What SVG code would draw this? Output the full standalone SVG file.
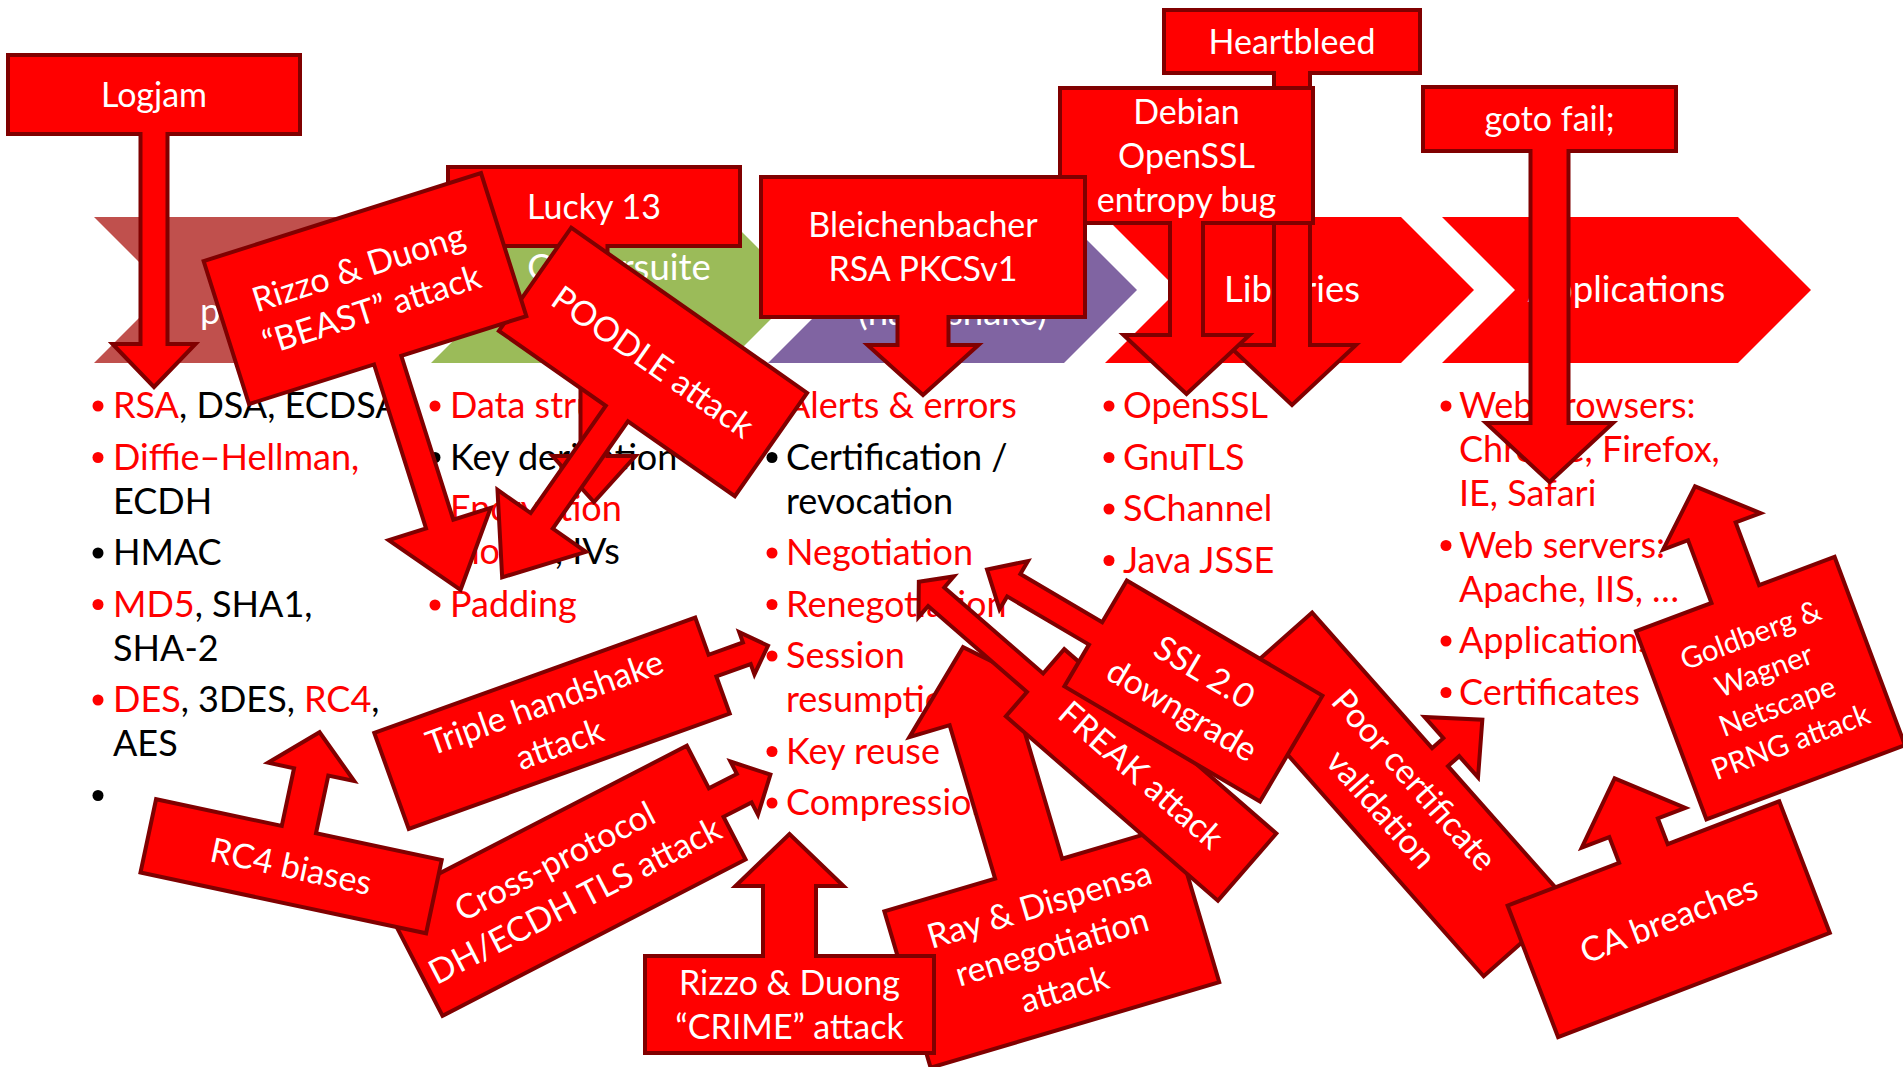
<svg xmlns="http://www.w3.org/2000/svg" width="1903" height="1067" viewBox="0 0 1903 1067">
<style>
  .t { font-family: Lato, "Liberation Sans", sans-serif; font-size: 34px; }
  .lt { font-size: 36px; }
  .ct { font-size: 36.5px; }
  .sm { font-size: 29.5px; }
  .cw { fill: #ffffff; text-anchor: middle; }
  .r { fill: #ff0000; }
  .k { fill: #000000; }
  .co { fill: #ff0000; stroke: #800000; stroke-width: 4; stroke-linejoin: miter; stroke-miterlimit: 10; }
  .dr { fill: #ff0000; }
  .dk { fill: #000000; }
</style>

<!-- process chevrons -->
<g id="chevrons" class="t ct">
  <g id="chev-primitives">
    <path d="M94,217H390L463,290L390,363H94L167,290Z" fill="#c0504d"/>
    <text class="cw" x="278.5" y="324">primitives</text>
  </g>
  <g id="chev-ciphersuite">
    <path d="M431,217H727L800,290L727,363H431L504,290Z" fill="#9bbb59"/>
    <text class="cw" x="619" y="280">Ciphersuite</text>
  </g>
  <g id="chev-protocol">
    <path d="M768,217H1064L1137,290L1064,363H768L841,290Z" fill="#8064a2"/>
    <text class="cw" x="952.5" y="325">(handshake)</text>
  </g>
  <g id="chev-libraries">
    <path d="M1105,217H1401L1474,290L1401,363H1105L1178,290Z" fill="#ff0000"/>
    <text class="cw" x="1292" y="302">Libraries</text>
  </g>
  <g id="chev-applications">
    <path d="M1442,217H1738L1811,290L1738,363H1442L1515,290Z" fill="#ff0000"/>
    <text class="cw" x="1626.5" y="302">Applications</text>
  </g>
</g>

<!-- bullet lists under each chevron -->
<g id="lists" class="t lt">
  <g id="list-primitives">
    <circle class="dr" cx="98" cy="406" r="5.5"/>
    <text x="113" y="418"><tspan class="r">RSA</tspan><tspan class="k">, DSA, ECDSA</tspan></text>
    <circle class="dr" cx="98" cy="457.5" r="5.5"/>
    <text class="r" x="113" y="469.5">Diffie–Hellman,</text>
    <text class="k" x="113" y="513.5">ECDH</text>
    <circle class="dk" cx="98" cy="553" r="5.5"/>
    <text class="k" x="113" y="565">HMAC</text>
    <circle class="dr" cx="98" cy="604.5" r="5.5"/>
    <text x="113" y="616.5"><tspan class="r">MD5</tspan><tspan class="k">, SHA1,</tspan></text>
    <text class="k" x="113" y="660.5">SHA-2</text>
    <circle class="dr" cx="98" cy="700" r="5.5"/>
    <text x="113" y="712"><tspan class="r">DES</tspan><tspan class="k">, 3DES, </tspan><tspan class="r">RC4</tspan><tspan class="k">,</tspan></text>
    <text class="k" x="113" y="756">AES</text>
    <circle class="dk" cx="98" cy="795.5" r="5.5"/>
  </g>
  <g id="list-ciphersuite">
    <circle class="dr" cx="435" cy="406" r="5.5"/>
    <text class="r" x="450" y="418">Data structures</text>
    <circle class="dk" cx="435" cy="457.5" r="5.5"/>
    <text class="k" x="450" y="469.5">Key derivation</text>
    <circle class="dr" cx="435" cy="509" r="5.5"/>
    <text class="r" x="450" y="521">Encryption</text>
    <text x="450" y="564"><tspan class="r">modes</tspan><tspan class="k">, IVs</tspan></text>
    <circle class="dr" cx="435" cy="605" r="5.5"/>
    <text class="r" x="450" y="617">Padding</text>
  </g>
  <g id="list-protocol">
    <circle class="dr" cx="772" cy="406" r="5.5"/>
    <text class="r" x="786" y="418">Alerts &amp; errors</text>
    <circle class="dk" cx="772" cy="457.5" r="5.5"/>
    <text class="k" x="786" y="469.5">Certification /</text>
    <text class="k" x="786" y="513.5">revocation</text>
    <circle class="dr" cx="772" cy="553" r="5.5"/>
    <text class="r" x="786" y="565">Negotiation</text>
    <circle class="dr" cx="772" cy="604.5" r="5.5"/>
    <text class="r" x="786" y="616.5">Renegotiation</text>
    <circle class="dr" cx="772" cy="656" r="5.5"/>
    <text class="r" x="786" y="668">Session</text>
    <text class="r" x="786" y="712">resumption</text>
    <circle class="dr" cx="772" cy="751.5" r="5.5"/>
    <text class="r" x="786" y="763.5">Key reuse</text>
    <circle class="dr" cx="772" cy="803" r="5.5"/>
    <text class="r" x="786" y="815">Compression</text>
  </g>
  <g id="list-libraries">
    <circle class="dr" cx="1109" cy="406" r="5.5"/>
    <text class="r" x="1123" y="418">OpenSSL</text>
    <circle class="dr" cx="1109" cy="457.5" r="5.5"/>
    <text class="r" x="1123" y="469.5">GnuTLS</text>
    <circle class="dr" cx="1109" cy="509" r="5.5"/>
    <text class="r" x="1123" y="521">SChannel</text>
    <circle class="dr" cx="1109" cy="560.5" r="5.5"/>
    <text class="r" x="1123" y="572.5">Java JSSE</text>
  </g>
  <g id="list-applications">
    <circle class="dr" cx="1446" cy="406" r="5.5"/>
    <text class="r" x="1459" y="418">Web browsers:</text>
    <text class="r" x="1459" y="462">Chrome, Firefox,</text>
    <text class="r" x="1459" y="506">IE, Safari</text>
    <circle class="dr" cx="1446" cy="545.5" r="5.5"/>
    <text class="r" x="1459" y="557.5">Web servers:</text>
    <text class="r" x="1459" y="601.5">Apache, IIS, …</text>
    <circle class="dr" cx="1446" cy="641" r="5.5"/>
    <text class="r" x="1459" y="653">Applications</text>
    <circle class="dr" cx="1446" cy="692.5" r="5.5"/>
    <text class="r" x="1459" y="704.5">Certificates</text>
  </g>
</g>

<!-- attack callouts, each a box with an arrow pointing at its target -->
<g id="callouts" class="t">
  <g id="heartbleed" transform="translate(1292,41.5)">
    <path class="co" d="M-128,-31.5H128V31.5H18V303.5H64L0,363.5L-64,303.5H-18V31.5H-128Z"/>
    <text class="cw" x="0" y="12">Heartbleed</text>
  </g>
  <g id="debian-openssl" transform="translate(1186.5,155.5)">
    <path class="co" d="M-126.5,-67.5H126.5V67.5H16.5V179.5H63L0,238.5L-63,179.5H-16.5V67.5H-126.5Z"/>
    <text class="cw"><tspan x="0" y="-32">Debian</tspan><tspan x="0" y="12">OpenSSL</tspan><tspan x="0" y="56">entropy bug</tspan></text>
  </g>
  <g id="bleichenbacher" transform="translate(923,247)">
    <path class="co" d="M-162,-70H162V70H25.5V98H55.5L0,148L-55.5,98H-25.5V70H-162Z"/>
    <text class="cw"><tspan x="0" y="-10">Bleichenbacher</tspan><tspan x="0" y="34">RSA PKCSv1</tspan></text>
  </g>
  <g id="goto-fail" transform="translate(1549.5,119)">
    <path class="co" d="M-126.5,-32H126.5V32H19V304H63.5L0,363L-63.5,304H-19V32H-126.5Z"/>
    <text class="cw" x="0" y="12">goto fail;</text>
  </g>
  <g id="logjam" transform="translate(154,94.5)">
    <path class="co" d="M-146,-39.5H146V39.5H13.5V249.5H41.5L0,292.5L-41.5,249.5H-13.5V39.5H-146Z"/>
    <text class="cw" x="0" y="12">Logjam</text>
  </g>
  <g id="lucky13" transform="translate(594,206.5)">
    <path class="co" d="M-146,-39.5H146V39.5H13.5V249.5H41.5L0,295.5L-41.5,249.5H-13.5V39.5H-146Z"/>
    <text class="cw" x="0" y="12">Lucky 13</text>
  </g>
  <g id="poodle" transform="translate(653,361.9) rotate(35)">
    <path class="co" d="M-144,-63H144V63H13.5V194H54L0,263L-54,194H-13.5V63H-144Z"/>
    <text class="cw" x="0" y="12">POODLE attack</text>
  </g>
  <g id="beast" transform="translate(365,288.6) rotate(-17.6)">
    <path class="co" d="M-145.5,-75H145.5V75H14.3V247H53.5L0,316L-53.5,247H-14.3V75H-145.5Z"/>
    <text class="cw"><tspan x="0" y="-10">Rizzo &amp; Duong</tspan><tspan x="0" y="34">“BEAST” attack</tspan></text>
  </g>
  <g id="triple-handshake" transform="translate(552,723.25) rotate(-19.75)">
    <path class="co" d="M-170.5,-51H170.5V-11.5H207V-22.5L229.5,0L207,22.5V11.5H170.5V51H-170.5Z"/>
    <text class="cw"><tspan x="0" y="-10">Triple handshake</tspan><tspan x="0" y="34">attack</tspan></text>
  </g>
  <g id="cross-protocol" transform="translate(564.7,880.8) rotate(-27.3)">
    <path class="co" d="M-170.5,-64H170.5V-16H202V-30L231.5,0L202,30V16H170.5V64H-170.5Z"/>
    <text class="cw"><tspan x="0" y="-10">Cross-protocol</tspan><tspan x="0" y="34">DH/ECDH TLS attack</tspan></text>
  </g>
  <g id="rc4-biases" transform="translate(291.1,866.25) rotate(12)">
    <path class="co" d="M-146,37.5H146V-37.5H17.5V-96.5H44L0,-137L-44,-96.5H-17.5V-37.5H-146Z"/>
    <text class="cw" x="0" y="12">RC4 biases</text>
  </g>
  <g id="ray-dispensa" transform="translate(1051.8,946.8) rotate(-16.5)">
    <path class="co" d="M-150.5,81.5H150.5V-81.5H35V-241.5H77L0,-312.5L-77,-241.5H-35V-81.5H-150.5Z"/>
    <text class="cw"><tspan x="0" y="-32">Ray &amp; Dispensa</tspan><tspan x="0" y="12">renegotiation</tspan><tspan x="0" y="56">attack</tspan></text>
  </g>
  <g id="crime" transform="translate(789.5,1004.5)">
    <path class="co" d="M-144.5,48.5H144.5V-48.5H26.5V-118.5H54L0,-170.5L-54,-118.5H-26.5V-48.5H-144.5Z"/>
    <text class="cw"><tspan x="0" y="-10">Rizzo &amp; Duong</tspan><tspan x="0" y="34">“CRIME” attack</tspan></text>
  </g>
  <g id="freak" transform="translate(1141.1,774.9) rotate(41)">
    <path class="co" d="M140.5,-44.5V44.5H-140.5V12.3H-271.5V27L-294.5,0L-271.5,-27V-12.3H-140.5V-44.5Z"/>
    <text class="cw" x="0" y="12">FREAK attack</text>
  </g>
  <g id="poor-cert-validation" transform="translate(1397.9,794.4) rotate(48.5)">
    <path class="co" d="M-193,56.25H193V-56.25H12V-71.25H40.4L0,-112.75L-40.4,-71.25H-12V-56.25H-193Z"/>
    <text class="cw"><tspan x="0" y="-10">Poor certificate</tspan><tspan x="0" y="34">validation</tspan></text>
  </g>
  <g id="ssl2-downgrade" transform="translate(1193.4,691) rotate(30.5)">
    <path class="co" d="M113.5,-61.5V61.5H-113.5V13H-208.5V28L-239.5,0L-208.5,-28V-13H-113.5V-61.5Z"/>
    <text class="cw"><tspan x="0" y="-10">SSL 2.0</tspan><tspan x="0" y="34">downgrade</tspan></text>
  </g>
  <g id="goldberg-wagner" transform="translate(1770.5,688.2) rotate(-20.5)">
    <path class="co" d="M-106,100.5H106V-100.5H25.4V-167.5H52L0,-215.5L-52,-167.5H-25.4V-100.5H-106Z"/>
    <text class="cw sm"><tspan x="0" y="-46.5">Goldberg &amp;</tspan><tspan x="0" y="-8.5">Wagner</tspan><tspan x="0" y="29.5">Netscape</tspan><tspan x="0" y="67.5">PRNG attack</tspan></text>
  </g>
  <g id="ca-breaches" transform="translate(1668.7,919.25) rotate(-21)">
    <path class="co" d="M-145.5,70.5H145.5V-70.5H26V-98H55.5L0,-150.9L-55.5,-98H-26V-70.5H-145.5Z"/>
    <text class="cw" x="0" y="12">CA breaches</text>
  </g>
</g>
</svg>
